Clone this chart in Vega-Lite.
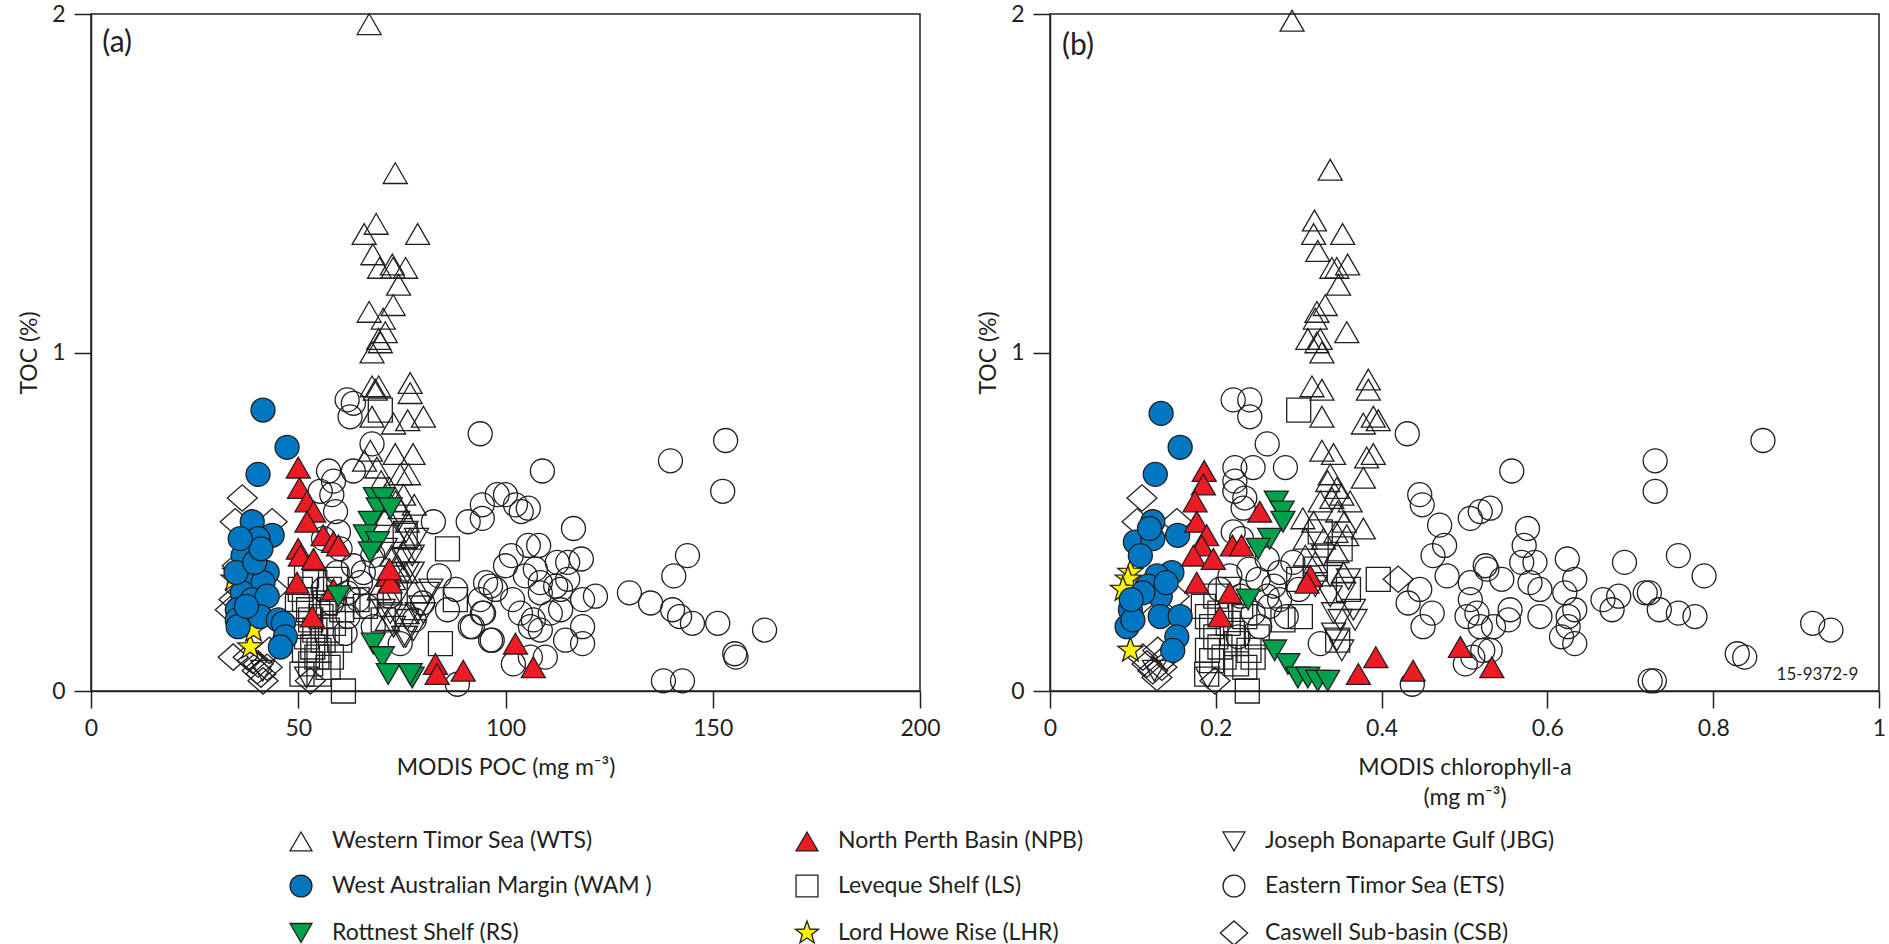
{
  "$schema": "https://vega.github.io/schema/vega-lite/v6.json",
  "background": "white",
  "padding": {"left": 17, "top": 2, "right": 5, "bottom": 5},
  "bounds": "flush",
  "spacing": 130,
  "config": {
    "font": "Lato",
    "view": {"stroke": "#231f20", "strokeWidth": 1.5},
    "axis": {"domainColor": "#231f20", "domainWidth": 1.5, "tickColor": "#231f20", "tickWidth": 1.5, "tickSize": 17, "labelFontSize": 23, "labelColor": "#231f20", "titleFontSize": 23, "titleFontWeight": "normal", "titleColor": "#231f20", "grid": false, "labelPadding": 9, "labelFont": "Lato", "titleFont": "Lato", "labelFlush": false},
    "legend": {"title": null, "orient": "none", "legendX": 198, "legendY": 815, "direction": "horizontal", "columns": 3, "symbolSize": 480, "symbolStrokeWidth": 1.3, "labelFontSize": 23, "labelFont": "Lato", "labelColor": "#231f20", "labelOffset": 19, "rowPadding": 18, "columnPadding": 133, "labelLimit": 600}
  },
  "datasets": {
    "pts": [
      {"p":"a","r":"ETS","x":61.8,"y":0.86},{"p":"a","r":"ETS","x":63.3,"y":0.85},{"p":"a","r":"ETS","x":62.5,"y":0.81},{"p":"a","r":"ETS","x":67.8,"y":0.73},{"p":"a","r":"ETS","x":57.3,"y":0.65},{"p":"a","r":"ETS","x":58.5,"y":0.62},{"p":"a","r":"ETS","x":63.3,"y":0.65},{"p":"a","r":"ETS","x":58.1,"y":0.58},{"p":"a","r":"ETS","x":59.0,"y":0.53},{"p":"a","r":"ETS","x":55.3,"y":0.59},{"p":"a","r":"ETS","x":59.7,"y":0.47},{"p":"a","r":"ETS","x":56.1,"y":0.45},{"p":"a","r":"ETS","x":60.1,"y":0.42},{"p":"a","r":"ETS","x":63.3,"y":0.37},{"p":"a","r":"ETS","x":59.4,"y":0.35},{"p":"a","r":"ETS","x":65.7,"y":0.35},{"p":"a","r":"ETS","x":61.8,"y":0.29},{"p":"a","r":"ETS","x":64.5,"y":0.27},{"p":"a","r":"ETS","x":66.6,"y":0.25},{"p":"a","r":"ETS","x":68.1,"y":0.19},{"p":"a","r":"ETS","x":74.6,"y":0.14},{"p":"a","r":"ETS","x":61.3,"y":0.17},{"p":"a","r":"ETS","x":93.9,"y":0.76},{"p":"a","r":"ETS","x":82.6,"y":0.50},{"p":"a","r":"ETS","x":91.0,"y":0.50},{"p":"a","r":"ETS","x":94.4,"y":0.55},{"p":"a","r":"ETS","x":94.4,"y":0.51},{"p":"a","r":"ETS","x":98.0,"y":0.58},{"p":"a","r":"ETS","x":88.4,"y":0.02},{"p":"a","r":"ETS","x":95.2,"y":0.32},{"p":"a","r":"ETS","x":96.4,"y":0.31},{"p":"a","r":"ETS","x":93.9,"y":0.27},{"p":"a","r":"ETS","x":94.4,"y":0.23},{"p":"a","r":"ETS","x":91.5,"y":0.19},{"p":"a","r":"ETS","x":96.4,"y":0.15},{"p":"a","r":"ETS","x":108.9,"y":0.65},{"p":"a","r":"ETS","x":100.0,"y":0.58},{"p":"a","r":"ETS","x":102.4,"y":0.55},{"p":"a","r":"ETS","x":105.5,"y":0.54},{"p":"a","r":"ETS","x":103.8,"y":0.53},{"p":"a","r":"ETS","x":116.4,"y":0.48},{"p":"a","r":"ETS","x":105.5,"y":0.43},{"p":"a","r":"ETS","x":108.0,"y":0.43},{"p":"a","r":"ETS","x":101.4,"y":0.40},{"p":"a","r":"ETS","x":100.0,"y":0.37},{"p":"a","r":"ETS","x":107.2,"y":0.36},{"p":"a","r":"ETS","x":104.8,"y":0.34},{"p":"a","r":"ETS","x":112.5,"y":0.38},{"p":"a","r":"ETS","x":115.0,"y":0.38},{"p":"a","r":"ETS","x":118.3,"y":0.39},{"p":"a","r":"ETS","x":97.6,"y":0.30},{"p":"a","r":"ETS","x":108.4,"y":0.32},{"p":"a","r":"ETS","x":112.1,"y":0.31},{"p":"a","r":"ETS","x":115.0,"y":0.33},{"p":"a","r":"ETS","x":101.7,"y":0.27},{"p":"a","r":"ETS","x":108.4,"y":0.29},{"p":"a","r":"ETS","x":113.3,"y":0.30},{"p":"a","r":"ETS","x":118.6,"y":0.27},{"p":"a","r":"ETS","x":121.7,"y":0.28},{"p":"a","r":"ETS","x":94.7,"y":0.23},{"p":"a","r":"ETS","x":103.6,"y":0.23},{"p":"a","r":"ETS","x":106.7,"y":0.21},{"p":"a","r":"ETS","x":110.8,"y":0.23},{"p":"a","r":"ETS","x":113.3,"y":0.24},{"p":"a","r":"ETS","x":92.0,"y":0.19},{"p":"a","r":"ETS","x":106.0,"y":0.19},{"p":"a","r":"ETS","x":108.4,"y":0.18},{"p":"a","r":"ETS","x":118.6,"y":0.19},{"p":"a","r":"ETS","x":96.8,"y":0.15},{"p":"a","r":"ETS","x":114.5,"y":0.15},{"p":"a","r":"ETS","x":118.6,"y":0.14},{"p":"a","r":"ETS","x":109.6,"y":0.10},{"p":"a","r":"ETS","x":106.0,"y":0.10},{"p":"a","r":"ETS","x":101.9,"y":0.08},{"p":"a","r":"ETS","x":129.9,"y":0.29},{"p":"a","r":"ETS","x":135.0,"y":0.26},{"p":"a","r":"ETS","x":140.3,"y":0.24},{"p":"a","r":"ETS","x":142.0,"y":0.22},{"p":"a","r":"ETS","x":145.1,"y":0.20},{"p":"a","r":"ETS","x":151.2,"y":0.20},{"p":"a","r":"ETS","x":162.5,"y":0.18},{"p":"a","r":"ETS","x":155.3,"y":0.11},{"p":"a","r":"ETS","x":155.6,"y":0.10},{"p":"a","r":"ETS","x":138.1,"y":0.03},{"p":"a","r":"ETS","x":142.7,"y":0.03},{"p":"a","r":"ETS","x":139.8,"y":0.68},{"p":"a","r":"ETS","x":153.1,"y":0.74},{"p":"a","r":"ETS","x":152.4,"y":0.59},{"p":"a","r":"ETS","x":143.9,"y":0.40},{"p":"a","r":"ETS","x":140.6,"y":0.34},{"p":"a","r":"ETS","x":56,"y":0.30},{"p":"a","r":"ETS","x":58,"y":0.26},{"p":"a","r":"ETS","x":62,"y":0.22},{"p":"a","r":"ETS","x":65,"y":0.32},{"p":"a","r":"ETS","x":68,"y":0.40},{"p":"a","r":"ETS","x":70,"y":0.36},{"p":"a","r":"ETS","x":72,"y":0.28},{"p":"a","r":"ETS","x":78,"y":0.21},{"p":"a","r":"ETS","x":80,"y":0.26},{"p":"a","r":"ETS","x":86,"y":0.24},{"p":"a","r":"ETS","x":84,"y":0.34},{"p":"a","r":"ETS","x":88,"y":0.30},
      {"p":"a","r":"LS","x":69.8,"y":0.83},{"p":"a","r":"LS","x":86.0,"y":0.42},{"p":"a","r":"LS","x":87.9,"y":0.27},{"p":"a","r":"LS","x":84.3,"y":0.14},{"p":"a","r":"LS","x":60.9,"y":0.00},{"p":"a","r":"LS","x":57.2,"y":0.07},{"p":"a","r":"LS","x":50.9,"y":0.05},{"p":"a","r":"LS","x":73.4,"y":0.29},{"p":"a","r":"LS","x":75.8,"y":0.46},{"p":"a","r":"LS","x":66.2,"y":0.25},{"p":"a","r":"LS","x":64.2,"y":0.27},{"p":"a","r":"LS","x":70.5,"y":0.21},{"p":"a","r":"LS","x":50.5,"y":0.30},{"p":"a","r":"LS","x":51.5,"y":0.27},{"p":"a","r":"LS","x":52.5,"y":0.24},{"p":"a","r":"LS","x":53.0,"y":0.21},{"p":"a","r":"LS","x":54.0,"y":0.18},{"p":"a","r":"LS","x":52.0,"y":0.16},{"p":"a","r":"LS","x":53.5,"y":0.13},{"p":"a","r":"LS","x":55.0,"y":0.12},{"p":"a","r":"LS","x":56.0,"y":0.15},{"p":"a","r":"LS","x":54.5,"y":0.10},{"p":"a","r":"LS","x":51.5,"y":0.12},{"p":"a","r":"LS","x":50.0,"y":0.20},{"p":"a","r":"LS","x":55.5,"y":0.22},{"p":"a","r":"LS","x":57.0,"y":0.18},{"p":"a","r":"LS","x":56.5,"y":0.26},{"p":"a","r":"LS","x":58.0,"y":0.10},{"p":"a","r":"LS","x":53.0,"y":0.08},{"p":"a","r":"LS","x":55.0,"y":0.05},{"p":"a","r":"LS","x":58.5,"y":0.20},{"p":"a","r":"LS","x":60.0,"y":0.15},{"p":"a","r":"LS","x":49.8,"y":0.25},{"p":"a","r":"LS","x":52.0,"y":0.34},{"p":"a","r":"LS","x":54.0,"y":0.32},{"p":"a","r":"LS","x":57.5,"y":0.30},{"p":"a","r":"LS","x":60.5,"y":0.24},{"p":"a","r":"LS","x":62.0,"y":0.27},{"p":"a","r":"LS","x":59.0,"y":0.33},
      {"p":"a","r":"WTS","x":67.1,"y":1.97},{"p":"a","r":"WTS","x":73.4,"y":1.53},{"p":"a","r":"WTS","x":68.8,"y":1.38},{"p":"a","r":"WTS","x":65.9,"y":1.35},{"p":"a","r":"WTS","x":78.8,"y":1.35},{"p":"a","r":"WTS","x":68.0,"y":1.29},{"p":"a","r":"WTS","x":69.6,"y":1.25},{"p":"a","r":"WTS","x":72.7,"y":1.26},{"p":"a","r":"WTS","x":72.9,"y":1.25},{"p":"a","r":"WTS","x":75.9,"y":1.25},{"p":"a","r":"WTS","x":74.2,"y":1.20},{"p":"a","r":"WTS","x":72.9,"y":1.14},{"p":"a","r":"WTS","x":67.1,"y":1.12},{"p":"a","r":"WTS","x":70.5,"y":1.10},{"p":"a","r":"WTS","x":71.0,"y":1.06},{"p":"a","r":"WTS","x":69.4,"y":1.04},{"p":"a","r":"WTS","x":69.8,"y":1.03},{"p":"a","r":"WTS","x":67.8,"y":1.00},{"p":"a","r":"WTS","x":67.8,"y":0.90},{"p":"a","r":"WTS","x":69.4,"y":0.90},{"p":"a","r":"WTS","x":77.0,"y":0.91},{"p":"a","r":"WTS","x":77.0,"y":0.88},{"p":"a","r":"WTS","x":68.6,"y":0.89},{"p":"a","r":"WTS","x":67.8,"y":0.81},{"p":"a","r":"WTS","x":73.0,"y":0.79},{"p":"a","r":"WTS","x":76.4,"y":0.80},{"p":"a","r":"WTS","x":80.2,"y":0.81},{"p":"a","r":"WTS","x":67.4,"y":0.71},{"p":"a","r":"WTS","x":73.4,"y":0.70},{"p":"a","r":"WTS","x":77.7,"y":0.70},{"p":"a","r":"WTS","x":74.6,"y":0.64},{"p":"a","r":"WTS","x":76.6,"y":0.64},{"p":"a","r":"WTS","x":71.0,"y":0.58},{"p":"a","r":"WTS","x":75.4,"y":0.58},{"p":"a","r":"WTS","x":74.6,"y":0.54},{"p":"a","r":"WTS","x":76.3,"y":0.50},{"p":"a","r":"WTS","x":77.0,"y":0.45},{"p":"a","r":"WTS","x":75.4,"y":0.41},{"p":"a","r":"WTS","x":75.9,"y":0.35},{"p":"a","r":"WTS","x":71.5,"y":0.21},{"p":"a","r":"WTS","x":76.3,"y":0.23},{"p":"a","r":"WTS","x":70.0,"y":0.62},{"p":"a","r":"WTS","x":72.0,"y":0.60},{"p":"a","r":"WTS","x":73.5,"y":0.56},{"p":"a","r":"WTS","x":71.5,"y":0.52},{"p":"a","r":"WTS","x":73.0,"y":0.47},{"p":"a","r":"WTS","x":69.0,"y":0.66},{"p":"a","r":"WTS","x":66.0,"y":0.68},{"p":"a","r":"WTS","x":78.0,"y":0.55},{"p":"a","r":"WTS","x":72.5,"y":0.40},{"p":"a","r":"WTS","x":74.0,"y":0.37},{"p":"a","r":"WTS","x":69.5,"y":0.30},{"p":"a","r":"WTS","x":73.0,"y":0.33},
      {"p":"a","r":"JBG","x":81.1,"y":0.29},{"p":"a","r":"JBG","x":79.5,"y":0.25},{"p":"a","r":"JBG","x":76.3,"y":0.21},{"p":"a","r":"JBG","x":75.4,"y":0.16},{"p":"a","r":"JBG","x":78.7,"y":0.23},{"p":"a","r":"JBG","x":76.3,"y":0.35},{"p":"a","r":"JBG","x":77.5,"y":0.40},{"p":"a","r":"JBG","x":75.4,"y":0.39},{"p":"a","r":"JBG","x":74.6,"y":0.29},{"p":"a","r":"JBG","x":72.2,"y":0.23},{"p":"a","r":"JBG","x":73.0,"y":0.19},{"p":"a","r":"JBG","x":70.5,"y":0.24},{"p":"a","r":"JBG","x":82.0,"y":0.30},{"p":"a","r":"JBG","x":80.2,"y":0.23},{"p":"a","r":"JBG","x":77.8,"y":0.18},{"p":"a","r":"JBG","x":75.9,"y":0.16},{"p":"a","r":"JBG","x":77.5,"y":0.35},{"p":"a","r":"JBG","x":78.5,"y":0.45},{"p":"a","r":"JBG","x":76.0,"y":0.47},{"p":"a","r":"JBG","x":71.0,"y":0.42},{"p":"a","r":"JBG","x":74.0,"y":0.50},{"p":"a","r":"JBG","x":41.4,"y":0.06},{"p":"a","r":"JBG","x":52.0,"y":0.04},
      {"p":"a","r":"CSB","x":36.5,"y":0.57},{"p":"a","r":"CSB","x":34.8,"y":0.50},{"p":"a","r":"CSB","x":43.7,"y":0.50},{"p":"a","r":"CSB","x":35.3,"y":0.37},{"p":"a","r":"CSB","x":33.6,"y":0.24},{"p":"a","r":"CSB","x":34.3,"y":0.10},{"p":"a","r":"CSB","x":40.3,"y":0.08},{"p":"a","r":"CSB","x":41.5,"y":0.03},{"p":"a","r":"CSB","x":40.1,"y":0.06},{"p":"a","r":"CSB","x":37.9,"y":0.10},{"p":"a","r":"CSB","x":42.5,"y":0.07},{"p":"a","r":"CSB","x":52.9,"y":0.03},{"p":"a","r":"CSB","x":39.0,"y":0.09},{"p":"a","r":"CSB","x":41.0,"y":0.05},{"p":"a","r":"CSB","x":36.0,"y":0.30},{"p":"a","r":"CSB","x":44.0,"y":0.30},{"p":"a","r":"CSB","x":34.5,"y":0.27},{"p":"a","r":"CSB","x":43.0,"y":0.12},{"p":"a","r":"CSB","x":38.5,"y":0.40},
      {"p":"a","r":"LHR","x":34.8,"y":0.35},{"p":"a","r":"LHR","x":38.4,"y":0.13},{"p":"a","r":"LHR","x":39.2,"y":0.18},{"p":"a","r":"LHR","x":34.4,"y":0.33},
      {"p":"a","r":"WAM","x":41.5,"y":0.83},{"p":"a","r":"WAM","x":47.3,"y":0.72},{"p":"a","r":"WAM","x":40.3,"y":0.64},{"p":"a","r":"WAM","x":38.9,"y":0.50},{"p":"a","r":"WAM","x":43.7,"y":0.46},{"p":"a","r":"WAM","x":37.7,"y":0.44},{"p":"a","r":"WAM","x":40.3,"y":0.45},{"p":"a","r":"WAM","x":36.7,"y":0.40},{"p":"a","r":"WAM","x":39.6,"y":0.34},{"p":"a","r":"WAM","x":42.5,"y":0.35},{"p":"a","r":"WAM","x":41.5,"y":0.32},{"p":"a","r":"WAM","x":36.5,"y":0.29},{"p":"a","r":"WAM","x":38.9,"y":0.27},{"p":"a","r":"WAM","x":42.5,"y":0.28},{"p":"a","r":"WAM","x":35.3,"y":0.24},{"p":"a","r":"WAM","x":35.3,"y":0.21},{"p":"a","r":"WAM","x":35.5,"y":0.19},{"p":"a","r":"WAM","x":40.8,"y":0.22},{"p":"a","r":"WAM","x":45.2,"y":0.21},{"p":"a","r":"WAM","x":46.4,"y":0.20},{"p":"a","r":"WAM","x":46.9,"y":0.16},{"p":"a","r":"WAM","x":45.7,"y":0.13},{"p":"a","r":"WAM","x":35.0,"y":0.35},{"p":"a","r":"WAM","x":37.5,"y":0.25},{"p":"a","r":"WAM","x":39.5,"y":0.38},{"p":"a","r":"WAM","x":41.0,"y":0.42},{"p":"a","r":"WAM","x":36.0,"y":0.45},
      {"p":"a","r":"NPB","x":50.0,"y":0.66},{"p":"a","r":"NPB","x":50.3,"y":0.60},{"p":"a","r":"NPB","x":52.1,"y":0.56},{"p":"a","r":"NPB","x":53.7,"y":0.53},{"p":"a","r":"NPB","x":52.1,"y":0.50},{"p":"a","r":"NPB","x":56.0,"y":0.46},{"p":"a","r":"NPB","x":58.5,"y":0.44},{"p":"a","r":"NPB","x":59.7,"y":0.43},{"p":"a","r":"NPB","x":50.0,"y":0.42},{"p":"a","r":"NPB","x":50.5,"y":0.40},{"p":"a","r":"NPB","x":53.7,"y":0.39},{"p":"a","r":"NPB","x":49.7,"y":0.32},{"p":"a","r":"NPB","x":53.4,"y":0.22},{"p":"a","r":"NPB","x":58.5,"y":0.30},{"p":"a","r":"NPB","x":71.7,"y":0.34},{"p":"a","r":"NPB","x":72.2,"y":0.32},{"p":"a","r":"NPB","x":83.1,"y":0.08},{"p":"a","r":"NPB","x":83.5,"y":0.05},{"p":"a","r":"NPB","x":89.8,"y":0.06},{"p":"a","r":"NPB","x":102.4,"y":0.14},{"p":"a","r":"NPB","x":106.7,"y":0.07},{"p":"a","r":"NPB","x":72.0,"y":0.36},
      {"p":"a","r":"RS","x":68.6,"y":0.57},{"p":"a","r":"RS","x":70.5,"y":0.57},{"p":"a","r":"RS","x":69.3,"y":0.54},{"p":"a","r":"RS","x":72.2,"y":0.54},{"p":"a","r":"RS","x":67.4,"y":0.50},{"p":"a","r":"RS","x":66.2,"y":0.46},{"p":"a","r":"RS","x":69.1,"y":0.44},{"p":"a","r":"RS","x":67.4,"y":0.41},{"p":"a","r":"RS","x":59.7,"y":0.28},{"p":"a","r":"RS","x":68.1,"y":0.14},{"p":"a","r":"RS","x":70.3,"y":0.10},{"p":"a","r":"RS","x":71.7,"y":0.05},{"p":"a","r":"RS","x":77.5,"y":0.04},{"p":"a","r":"RS","x":77.0,"y":0.05},
      {"p":"b","r":"ETS","x":0.221,"y":0.86},{"p":"b","r":"ETS","x":0.241,"y":0.86},{"p":"b","r":"ETS","x":0.241,"y":0.81},{"p":"b","r":"ETS","x":0.262,"y":0.73},{"p":"b","r":"ETS","x":0.431,"y":0.76},{"p":"b","r":"ETS","x":0.223,"y":0.66},{"p":"b","r":"ETS","x":0.245,"y":0.66},{"p":"b","r":"ETS","x":0.284,"y":0.66},{"p":"b","r":"ETS","x":0.223,"y":0.62},{"p":"b","r":"ETS","x":0.223,"y":0.59},{"p":"b","r":"ETS","x":0.235,"y":0.57},{"p":"b","r":"ETS","x":0.233,"y":0.54},{"p":"b","r":"ETS","x":0.221,"y":0.47},{"p":"b","r":"ETS","x":0.231,"y":0.45},{"p":"b","r":"ETS","x":0.262,"y":0.39},{"p":"b","r":"ETS","x":0.277,"y":0.35},{"p":"b","r":"ETS","x":0.293,"y":0.38},{"p":"b","r":"ETS","x":0.251,"y":0.33},{"p":"b","r":"ETS","x":0.217,"y":0.34},{"p":"b","r":"ETS","x":0.262,"y":0.28},{"p":"b","r":"ETS","x":0.277,"y":0.27},{"p":"b","r":"ETS","x":0.253,"y":0.19},{"p":"b","r":"ETS","x":0.227,"y":0.16},{"p":"b","r":"ETS","x":0.326,"y":0.14},{"p":"b","r":"ETS","x":0.245,"y":0.23},{"p":"b","r":"ETS","x":0.437,"y":0.02},{"p":"b","r":"ETS","x":0.446,"y":0.58},{"p":"b","r":"ETS","x":0.449,"y":0.55},{"p":"b","r":"ETS","x":0.470,"y":0.49},{"p":"b","r":"ETS","x":0.476,"y":0.43},{"p":"b","r":"ETS","x":0.462,"y":0.40},{"p":"b","r":"ETS","x":0.507,"y":0.51},{"p":"b","r":"ETS","x":0.519,"y":0.53},{"p":"b","r":"ETS","x":0.531,"y":0.54},{"p":"b","r":"ETS","x":0.479,"y":0.34},{"p":"b","r":"ETS","x":0.446,"y":0.30},{"p":"b","r":"ETS","x":0.432,"y":0.26},{"p":"b","r":"ETS","x":0.461,"y":0.23},{"p":"b","r":"ETS","x":0.450,"y":0.19},{"p":"b","r":"ETS","x":0.507,"y":0.32},{"p":"b","r":"ETS","x":0.527,"y":0.36},{"p":"b","r":"ETS","x":0.507,"y":0.27},{"p":"b","r":"ETS","x":0.515,"y":0.23},{"p":"b","r":"ETS","x":0.503,"y":0.22},{"p":"b","r":"ETS","x":0.519,"y":0.19},{"p":"b","r":"ETS","x":0.510,"y":0.10},{"p":"b","r":"ETS","x":0.501,"y":0.08},{"p":"b","r":"ETS","x":0.522,"y":0.12},{"p":"b","r":"ETS","x":0.557,"y":0.65},{"p":"b","r":"ETS","x":0.576,"y":0.48},{"p":"b","r":"ETS","x":0.572,"y":0.43},{"p":"b","r":"ETS","x":0.585,"y":0.38},{"p":"b","r":"ETS","x":0.569,"y":0.38},{"p":"b","r":"ETS","x":0.525,"y":0.37},{"p":"b","r":"ETS","x":0.545,"y":0.33},{"p":"b","r":"ETS","x":0.579,"y":0.32},{"p":"b","r":"ETS","x":0.591,"y":0.30},{"p":"b","r":"ETS","x":0.621,"y":0.29},{"p":"b","r":"ETS","x":0.624,"y":0.39},{"p":"b","r":"ETS","x":0.633,"y":0.33},{"p":"b","r":"ETS","x":0.555,"y":0.24},{"p":"b","r":"ETS","x":0.553,"y":0.21},{"p":"b","r":"ETS","x":0.535,"y":0.19},{"p":"b","r":"ETS","x":0.591,"y":0.22},{"p":"b","r":"ETS","x":0.625,"y":0.22},{"p":"b","r":"ETS","x":0.633,"y":0.24},{"p":"b","r":"ETS","x":0.625,"y":0.19},{"p":"b","r":"ETS","x":0.617,"y":0.16},{"p":"b","r":"ETS","x":0.633,"y":0.14},{"p":"b","r":"ETS","x":0.531,"y":0.12},{"p":"b","r":"ETS","x":0.667,"y":0.27},{"p":"b","r":"ETS","x":0.678,"y":0.24},{"p":"b","r":"ETS","x":0.686,"y":0.28},{"p":"b","r":"ETS","x":0.693,"y":0.38},{"p":"b","r":"ETS","x":0.718,"y":0.29},{"p":"b","r":"ETS","x":0.723,"y":0.29},{"p":"b","r":"ETS","x":0.735,"y":0.24},{"p":"b","r":"ETS","x":0.724,"y":0.03},{"p":"b","r":"ETS","x":0.729,"y":0.03},{"p":"b","r":"ETS","x":0.758,"y":0.40},{"p":"b","r":"ETS","x":0.758,"y":0.23},{"p":"b","r":"ETS","x":0.778,"y":0.22},{"p":"b","r":"ETS","x":0.789,"y":0.34},{"p":"b","r":"ETS","x":0.730,"y":0.68},{"p":"b","r":"ETS","x":0.730,"y":0.59},{"p":"b","r":"ETS","x":0.860,"y":0.74},{"p":"b","r":"ETS","x":0.920,"y":0.20},{"p":"b","r":"ETS","x":0.942,"y":0.18},{"p":"b","r":"ETS","x":0.829,"y":0.11},{"p":"b","r":"ETS","x":0.838,"y":0.10},{"p":"b","r":"ETS","x":0.205,"y":0.30},{"p":"b","r":"ETS","x":0.230,"y":0.28},{"p":"b","r":"ETS","x":0.270,"y":0.31},{"p":"b","r":"ETS","x":0.300,"y":0.30},{"p":"b","r":"ETS","x":0.285,"y":0.22},{"p":"b","r":"ETS","x":0.265,"y":0.25},{"p":"b","r":"ETS","x":0.240,"y":0.36},
      {"p":"b","r":"LS","x":0.300,"y":0.83},{"p":"b","r":"LS","x":0.396,"y":0.33},{"p":"b","r":"LS","x":0.302,"y":0.22},{"p":"b","r":"LS","x":0.238,"y":0.00},{"p":"b","r":"LS","x":0.235,"y":0.07},{"p":"b","r":"LS","x":0.189,"y":0.05},{"p":"b","r":"LS","x":0.326,"y":0.47},{"p":"b","r":"LS","x":0.350,"y":0.42},{"p":"b","r":"LS","x":0.347,"y":0.15},{"p":"b","r":"LS","x":0.281,"y":0.21},{"p":"b","r":"LS","x":0.185,"y":0.25},{"p":"b","r":"LS","x":0.190,"y":0.22},{"p":"b","r":"LS","x":0.195,"y":0.19},{"p":"b","r":"LS","x":0.200,"y":0.16},{"p":"b","r":"LS","x":0.205,"y":0.13},{"p":"b","r":"LS","x":0.210,"y":0.10},{"p":"b","r":"LS","x":0.200,"y":0.28},{"p":"b","r":"LS","x":0.215,"y":0.20},{"p":"b","r":"LS","x":0.220,"y":0.17},{"p":"b","r":"LS","x":0.225,"y":0.14},{"p":"b","r":"LS","x":0.190,"y":0.12},{"p":"b","r":"LS","x":0.195,"y":0.09},{"p":"b","r":"LS","x":0.230,"y":0.25},{"p":"b","r":"LS","x":0.235,"y":0.22},{"p":"b","r":"LS","x":0.215,"y":0.30},{"p":"b","r":"LS","x":0.205,"y":0.23},{"p":"b","r":"LS","x":0.240,"y":0.12},{"p":"b","r":"LS","x":0.225,"y":0.08},{"p":"b","r":"LS","x":0.250,"y":0.16},{"p":"b","r":"LS","x":0.245,"y":0.10},{"p":"b","r":"LS","x":0.300,"y":0.33},{"p":"b","r":"LS","x":0.320,"y":0.36},{"p":"b","r":"LS","x":0.360,"y":0.30},
      {"p":"b","r":"WTS","x":0.292,"y":1.98},{"p":"b","r":"WTS","x":0.338,"y":1.54},{"p":"b","r":"WTS","x":0.319,"y":1.39},{"p":"b","r":"WTS","x":0.318,"y":1.35},{"p":"b","r":"WTS","x":0.323,"y":1.30},{"p":"b","r":"WTS","x":0.353,"y":1.35},{"p":"b","r":"WTS","x":0.340,"y":1.25},{"p":"b","r":"WTS","x":0.346,"y":1.25},{"p":"b","r":"WTS","x":0.359,"y":1.26},{"p":"b","r":"WTS","x":0.348,"y":1.20},{"p":"b","r":"WTS","x":0.332,"y":1.14},{"p":"b","r":"WTS","x":0.322,"y":1.12},{"p":"b","r":"WTS","x":0.320,"y":1.10},{"p":"b","r":"WTS","x":0.358,"y":1.06},{"p":"b","r":"WTS","x":0.311,"y":1.04},{"p":"b","r":"WTS","x":0.326,"y":1.04},{"p":"b","r":"WTS","x":0.322,"y":1.03},{"p":"b","r":"WTS","x":0.328,"y":1.00},{"p":"b","r":"WTS","x":0.316,"y":0.90},{"p":"b","r":"WTS","x":0.328,"y":0.89},{"p":"b","r":"WTS","x":0.384,"y":0.92},{"p":"b","r":"WTS","x":0.384,"y":0.89},{"p":"b","r":"WTS","x":0.328,"y":0.81},{"p":"b","r":"WTS","x":0.378,"y":0.79},{"p":"b","r":"WTS","x":0.390,"y":0.81},{"p":"b","r":"WTS","x":0.396,"y":0.80},{"p":"b","r":"WTS","x":0.328,"y":0.71},{"p":"b","r":"WTS","x":0.342,"y":0.70},{"p":"b","r":"WTS","x":0.382,"y":0.69},{"p":"b","r":"WTS","x":0.390,"y":0.70},{"p":"b","r":"WTS","x":0.338,"y":0.64},{"p":"b","r":"WTS","x":0.378,"y":0.63},{"p":"b","r":"WTS","x":0.346,"y":0.60},{"p":"b","r":"WTS","x":0.352,"y":0.58},{"p":"b","r":"WTS","x":0.326,"y":0.56},{"p":"b","r":"WTS","x":0.362,"y":0.56},{"p":"b","r":"WTS","x":0.347,"y":0.53},{"p":"b","r":"WTS","x":0.305,"y":0.51},{"p":"b","r":"WTS","x":0.378,"y":0.48},{"p":"b","r":"WTS","x":0.318,"y":0.50},{"p":"b","r":"WTS","x":0.308,"y":0.45},{"p":"b","r":"WTS","x":0.358,"y":0.46},{"p":"b","r":"WTS","x":0.346,"y":0.41},{"p":"b","r":"WTS","x":0.308,"y":0.40},{"p":"b","r":"WTS","x":0.354,"y":0.35},{"p":"b","r":"WTS","x":0.320,"y":0.38},{"p":"b","r":"WTS","x":0.335,"y":0.62},{"p":"b","r":"WTS","x":0.340,"y":0.57},{"p":"b","r":"WTS","x":0.355,"y":0.50},{"p":"b","r":"WTS","x":0.330,"y":0.45},{"p":"b","r":"WTS","x":0.345,"y":0.47},
      {"p":"b","r":"JBG","x":0.366,"y":0.24},{"p":"b","r":"JBG","x":0.368,"y":0.21},{"p":"b","r":"JBG","x":0.350,"y":0.21},{"p":"b","r":"JBG","x":0.342,"y":0.23},{"p":"b","r":"JBG","x":0.338,"y":0.28},{"p":"b","r":"JBG","x":0.354,"y":0.29},{"p":"b","r":"JBG","x":0.346,"y":0.15},{"p":"b","r":"JBG","x":0.352,"y":0.12},{"p":"b","r":"JBG","x":0.342,"y":0.17},{"p":"b","r":"JBG","x":0.338,"y":0.34},{"p":"b","r":"JBG","x":0.360,"y":0.33},{"p":"b","r":"JBG","x":0.320,"y":0.31},{"p":"b","r":"JBG","x":0.330,"y":0.40},{"p":"b","r":"JBG","x":0.126,"y":0.06},{"p":"b","r":"JBG","x":0.190,"y":0.04},
      {"p":"b","r":"CSB","x":0.111,"y":0.57},{"p":"b","r":"CSB","x":0.105,"y":0.50},{"p":"b","r":"CSB","x":0.153,"y":0.50},{"p":"b","r":"CSB","x":0.129,"y":0.04},{"p":"b","r":"CSB","x":0.124,"y":0.06},{"p":"b","r":"CSB","x":0.117,"y":0.08},{"p":"b","r":"CSB","x":0.112,"y":0.10},{"p":"b","r":"CSB","x":0.135,"y":0.07},{"p":"b","r":"CSB","x":0.199,"y":0.03},{"p":"b","r":"CSB","x":0.420,"y":0.33},{"p":"b","r":"CSB","x":0.140,"y":0.10},{"p":"b","r":"CSB","x":0.130,"y":0.12},{"p":"b","r":"CSB","x":0.120,"y":0.30},{"p":"b","r":"CSB","x":0.108,"y":0.26},{"p":"b","r":"CSB","x":0.150,"y":0.28},
      {"p":"b","r":"LHR","x":0.097,"y":0.35},{"p":"b","r":"LHR","x":0.094,"y":0.33},{"p":"b","r":"LHR","x":0.088,"y":0.30},{"p":"b","r":"LHR","x":0.097,"y":0.12},
      {"p":"b","r":"WAM","x":0.134,"y":0.82},{"p":"b","r":"WAM","x":0.157,"y":0.72},{"p":"b","r":"WAM","x":0.127,"y":0.64},{"p":"b","r":"WAM","x":0.124,"y":0.50},{"p":"b","r":"WAM","x":0.154,"y":0.46},{"p":"b","r":"WAM","x":0.103,"y":0.44},{"p":"b","r":"WAM","x":0.124,"y":0.45},{"p":"b","r":"WAM","x":0.109,"y":0.40},{"p":"b","r":"WAM","x":0.147,"y":0.35},{"p":"b","r":"WAM","x":0.129,"y":0.34},{"p":"b","r":"WAM","x":0.118,"y":0.31},{"p":"b","r":"WAM","x":0.133,"y":0.28},{"p":"b","r":"WAM","x":0.112,"y":0.29},{"p":"b","r":"WAM","x":0.097,"y":0.24},{"p":"b","r":"WAM","x":0.093,"y":0.19},{"p":"b","r":"WAM","x":0.100,"y":0.21},{"p":"b","r":"WAM","x":0.133,"y":0.22},{"p":"b","r":"WAM","x":0.157,"y":0.22},{"p":"b","r":"WAM","x":0.153,"y":0.16},{"p":"b","r":"WAM","x":0.148,"y":0.12},{"p":"b","r":"WAM","x":0.120,"y":0.48},{"p":"b","r":"WAM","x":0.098,"y":0.27},{"p":"b","r":"WAM","x":0.140,"y":0.32},
      {"p":"b","r":"NPB","x":0.186,"y":0.65},{"p":"b","r":"NPB","x":0.185,"y":0.61},{"p":"b","r":"NPB","x":0.175,"y":0.56},{"p":"b","r":"NPB","x":0.177,"y":0.50},{"p":"b","r":"NPB","x":0.189,"y":0.46},{"p":"b","r":"NPB","x":0.183,"y":0.43},{"p":"b","r":"NPB","x":0.173,"y":0.40},{"p":"b","r":"NPB","x":0.197,"y":0.39},{"p":"b","r":"NPB","x":0.177,"y":0.32},{"p":"b","r":"NPB","x":0.220,"y":0.43},{"p":"b","r":"NPB","x":0.231,"y":0.43},{"p":"b","r":"NPB","x":0.253,"y":0.53},{"p":"b","r":"NPB","x":0.217,"y":0.29},{"p":"b","r":"NPB","x":0.205,"y":0.22},{"p":"b","r":"NPB","x":0.314,"y":0.34},{"p":"b","r":"NPB","x":0.310,"y":0.32},{"p":"b","r":"NPB","x":0.372,"y":0.05},{"p":"b","r":"NPB","x":0.393,"y":0.10},{"p":"b","r":"NPB","x":0.438,"y":0.06},{"p":"b","r":"NPB","x":0.495,"y":0.13},{"p":"b","r":"NPB","x":0.533,"y":0.07},
      {"p":"b","r":"RS","x":0.273,"y":0.56},{"p":"b","r":"RS","x":0.280,"y":0.53},{"p":"b","r":"RS","x":0.281,"y":0.50},{"p":"b","r":"RS","x":0.265,"y":0.45},{"p":"b","r":"RS","x":0.251,"y":0.42},{"p":"b","r":"RS","x":0.239,"y":0.27},{"p":"b","r":"RS","x":0.271,"y":0.12},{"p":"b","r":"RS","x":0.287,"y":0.08},{"p":"b","r":"RS","x":0.299,"y":0.04},{"p":"b","r":"RS","x":0.311,"y":0.04},{"p":"b","r":"RS","x":0.323,"y":0.03},{"p":"b","r":"RS","x":0.335,"y":0.03}
    ]
  },
  "hconcat": [
    {
      "width": 829,
      "height": 677,
      "layer": [
        {
          "data": {"name": "pts"},
          "transform": [{"filter": "datum.p == 'a'"}],
          "mark": {"type": "point", "filled": true, "size": 576, "strokeWidth": 1.3, "opacity": 1, "fillOpacity": 1, "strokeOpacity": 1},
          "encoding": {
            "x": {"field": "x", "type": "quantitative", "scale": {"domain": [0, 200], "nice": false}, "axis": {"values": [0, 50, 100, 150, 200], "title": "MODIS POC (mg m\u207b\u00b3)", "titlePadding": 16}},
            "y": {"field": "y", "type": "quantitative", "scale": {"domain": [0, 2], "nice": false}, "axis": {"values": [0, 1, 2], "title": "TOC (%)", "titlePadding": 10, "format": "~g"}},
            "shape": {"field": "r", "type": "nominal", "scale": {"domain": ["WTS","NPB","JBG","WAM","LS","ETS","RS","LHR","CSB"], "range": ["triangle-up","triangle-up","triangle-down","circle","square","circle","triangle-down","M0,-1.1L0.2645,-0.364L1.046,-0.34L0.428,0.139L0.647,0.89L0,0.45L-0.647,0.89L-0.428,0.139L-1.046,-0.34L-0.2645,-0.364Z","M-1.25,0L0,-1.1L1.25,0L0,1.1Z"]},
              "legend": {"labelExpr": "datum.label == 'WTS' ? 'Western Timor Sea (WTS)' : datum.label == 'NPB' ? 'North Perth Basin (NPB)' : datum.label == 'JBG' ? 'Joseph Bonaparte Gulf (JBG)' : datum.label == 'WAM' ? 'West Australian Margin (WAM  )' : datum.label == 'LS' ? 'Leveque Shelf (LS)' : datum.label == 'ETS' ? 'Eastern Timor Sea (ETS)' : datum.label == 'RS' ? 'Rottnest Shelf (RS)' : datum.label == 'LHR' ? 'Lord Howe Rise (LHR)' : 'Caswell Sub-basin (CSB)'"}},
            "fill": {"field": "r", "type": "nominal", "scale": {"domain": ["WTS","NPB","JBG","WAM","LS","ETS","RS","LHR","CSB"], "range": ["transparent","#ed1c24","transparent","#0077c0","transparent","transparent","#00a14b","#fff200","transparent"]},
              "legend": {"labelExpr": "datum.label == 'WTS' ? 'Western Timor Sea (WTS)' : datum.label == 'NPB' ? 'North Perth Basin (NPB)' : datum.label == 'JBG' ? 'Joseph Bonaparte Gulf (JBG)' : datum.label == 'WAM' ? 'West Australian Margin (WAM  )' : datum.label == 'LS' ? 'Leveque Shelf (LS)' : datum.label == 'ETS' ? 'Eastern Timor Sea (ETS)' : datum.label == 'RS' ? 'Rottnest Shelf (RS)' : datum.label == 'LHR' ? 'Lord Howe Rise (LHR)' : 'Caswell Sub-basin (CSB)'"}},
            "stroke": {"field": "r", "type": "nominal", "scale": {"domain": ["WTS","NPB","JBG","WAM","LS","ETS","RS","LHR","CSB"], "range": ["#231f20","#231f20","#231f20","#231f20","#231f20","#231f20","#231f20","#231f20","#231f20"]},
              "legend": {"labelExpr": "datum.label == 'WTS' ? 'Western Timor Sea (WTS)' : datum.label == 'NPB' ? 'North Perth Basin (NPB)' : datum.label == 'JBG' ? 'Joseph Bonaparte Gulf (JBG)' : datum.label == 'WAM' ? 'West Australian Margin (WAM  )' : datum.label == 'LS' ? 'Leveque Shelf (LS)' : datum.label == 'ETS' ? 'Eastern Timor Sea (ETS)' : datum.label == 'RS' ? 'Rottnest Shelf (RS)' : datum.label == 'LHR' ? 'Lord Howe Rise (LHR)' : 'Caswell Sub-basin (CSB)'"}}
          }
        },
        {
          "data": {"values": [{"t": "(a)", "x": 2.7, "y": 1.96}]},
          "mark": {"type": "text", "align": "left", "baseline": "top", "fontSize": 30, "font": "Lato", "color": "#231f20"},
          "encoding": {"x": {"field": "x", "type": "quantitative"}, "y": {"field": "y", "type": "quantitative"}, "text": {"field": "t"}}
        }
      ]
    },
    {
      "width": 829,
      "height": 677,
      "layer": [
        {
          "data": {"name": "pts"},
          "transform": [{"filter": "datum.p == 'b'"}],
          "mark": {"type": "point", "filled": true, "size": 576, "strokeWidth": 1.3, "opacity": 1, "fillOpacity": 1, "strokeOpacity": 1},
          "encoding": {
            "x": {"field": "x", "type": "quantitative", "scale": {"domain": [0, 1], "nice": false}, "axis": {"values": [0, 0.2, 0.4, 0.6, 0.8, 1], "format": "~g", "title": ["MODIS chlorophyll-a", "(mg m\u207b\u00b3)"], "titlePadding": 16, "titleLineHeight": 30}},
            "y": {"field": "y", "type": "quantitative", "scale": {"domain": [0, 2], "nice": false}, "axis": {"values": [0, 1, 2], "title": "TOC (%)", "titlePadding": 10, "format": "~g"}},
            "shape": {"field": "r", "type": "nominal"},
            "fill": {"field": "r", "type": "nominal"},
            "stroke": {"field": "r", "type": "nominal"}
          }
        },
        {
          "data": {"values": [{"t": "(b)", "x": 0.0145, "y": 1.95}]},
          "mark": {"type": "text", "align": "left", "baseline": "top", "fontSize": 30, "font": "Lato", "color": "#231f20"},
          "encoding": {"x": {"field": "x", "type": "quantitative"}, "y": {"field": "y", "type": "quantitative"}, "text": {"field": "t"}}
        },
        {
          "data": {"values": [{"t": "15-9372-9", "x": 0.975, "y": 0.032}]},
          "mark": {"type": "text", "align": "right", "baseline": "alphabetic", "fontSize": 17, "font": "Lato", "color": "#231f20"},
          "encoding": {"x": {"field": "x", "type": "quantitative"}, "y": {"field": "y", "type": "quantitative"}, "text": {"field": "t"}}
        }
      ]
    }
  ]
}
